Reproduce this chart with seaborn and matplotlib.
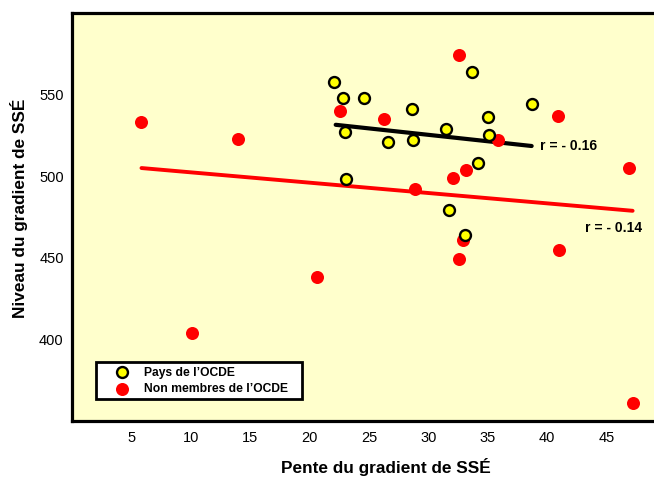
import matplotlib
matplotlib.use("Agg")
import matplotlib.pyplot as plt
from matplotlib.ticker import MultipleLocator
import seaborn as sns
import pandas as pd

# OECD countries (yellow)
oecd_x = [22.1, 22.8, 24.6, 23.0, 26.6, 28.6, 28.7, 31.5, 33.7, 35.0, 35.1, 38.7, 23.1, 34.2, 31.7, 33.1]
oecd_y = [558, 548, 548, 527, 521, 541, 522, 529, 564, 536, 525, 544, 498, 508, 479, 464]

# Non-member countries (red)
non_x = [5.8, 14.0, 10.1, 20.6, 22.6, 26.3, 32.6, 35.9, 40.9, 32.1, 33.2, 28.9, 32.9, 32.6, 41.0, 46.9, 47.2]
non_y = [533, 523, 404, 438, 540, 535, 574, 522, 537, 499, 504, 492, 461, 449, 455, 505, 361]

# Regression lines (endpoints)
fit_oecd_x = [22.2, 38.7]
fit_oecd_y = [531.5, 518.5]
fit_non_x = [5.85, 47.2]
fit_non_y = [505.0, 478.8]

r_labels = ["r = - 0.16", "r = - 0.14"]
legend_labels = ["Pays de l\u2019OCDE", "Non membres de l\u2019OCDE"]
x_ticks = [5, 10, 15, 20, 25, 30, 35, 40, 45]
y_ticks = [400, 450, 500, 550]

sns.set_style("white")
plt.rcParams['font.family'] = ['Liberation Sans', 'DejaVu Sans']
plt.rcParams['text.color'] = 'black'
plt.rcParams['axes.labelcolor'] = 'black'
plt.rcParams['xtick.color'] = 'black'
plt.rcParams['ytick.color'] = 'black'

fig = plt.figure(figsize=(6.54, 4.79), dpi=100)
ax = fig.add_axes([72/654, 58/479, 1 - 72/654, (421-13)/479])
ax.set_facecolor('#FFFFCC')

df_o = pd.DataFrame({"x": oecd_x, "y": oecd_y})
df_n = pd.DataFrame({"x": non_x, "y": non_y})

sns.lineplot(x=fit_non_x, y=fit_non_y, color='#FF0000', lw=2.8, ax=ax, zorder=2)
sns.lineplot(x=fit_oecd_x, y=fit_oecd_y, color='black', lw=3.0, ax=ax, zorder=2)

sns.scatterplot(data=df_n, x="x", y="y", color='#FF0000', s=88, linewidth=0,
                ax=ax, zorder=3, label=legend_labels[1])
sns.scatterplot(data=df_o, x="x", y="y", color='#FFFF00', edgecolor='black', s=62,
                linewidth=1.7, ax=ax, zorder=4, label=legend_labels[0])

ax.text(39.4, 518.5, r_labels[0], fontsize=10, fontweight='bold', va='center', ha='left')
ax.text(43.2, 468.5, r_labels[1], fontsize=10, fontweight='bold', va='center', ha='left')

ax.set_xlim(0, 49)
ax.set_ylim(350, 600)
ax.set_xticks(x_ticks)
ax.set_yticks(y_ticks)
ax.xaxis.set_minor_locator(MultipleLocator(2.5))
ax.yaxis.set_minor_locator(MultipleLocator(25))
ax.tick_params(axis='both', which='major', direction='in', length=4.5, width=1.2,
               labelsize=10.5, colors='black', labelcolor='black')
ax.tick_params(axis='x', which='major', pad=7)
ax.tick_params(axis='y', which='major', pad=6)
ax.tick_params(axis='both', which='minor', direction='in', length=2.2, width=0.9)
ax.tick_params(top=False, right=False, which='both')

for s in ['left', 'bottom', 'top']:
    ax.spines[s].set_linewidth(2.3)
    ax.spines[s].set_color('black')
ax.spines['right'].set_visible(False)

ax.set_xlabel("Pente du gradient de SSÉ", fontsize=12.4, fontweight='bold', color='black')
ax.set_ylabel("Niveau du gradient de SSÉ", fontsize=12.4, fontweight='bold', color='black')
ax.xaxis.set_label_coords((386 - 72) / 582, -(467 - 421) / 408)
ax.yaxis.set_label_coords(-(72 - 19) / 582, (421 - 208.5) / 408)
ax.xaxis.label.set_va('center')
ax.yaxis.label.set_va('center')

handles, labels = ax.get_legend_handles_labels()
order = [labels.index(legend_labels[0]), labels.index(legend_labels[1])]
leg = ax.legend([handles[i] for i in order], [labels[i] for i in order],
                loc='lower left', bbox_to_anchor=(0.041, 0.054, 0.354, 0.096),
                mode='expand', borderaxespad=0, frameon=True, fancybox=False,
                prop={'weight': 'bold', 'size': 8.7}, labelspacing=0.35,
                handlelength=3.6, handletextpad=0.05, borderpad=0.35, markerscale=1.0)
leg.get_frame().set_edgecolor('black')
leg.get_frame().set_linewidth(2.0)
leg.get_frame().set_facecolor('white')
leg.get_frame().set_alpha(1)

fig.savefig("out.png", dpi=100)
